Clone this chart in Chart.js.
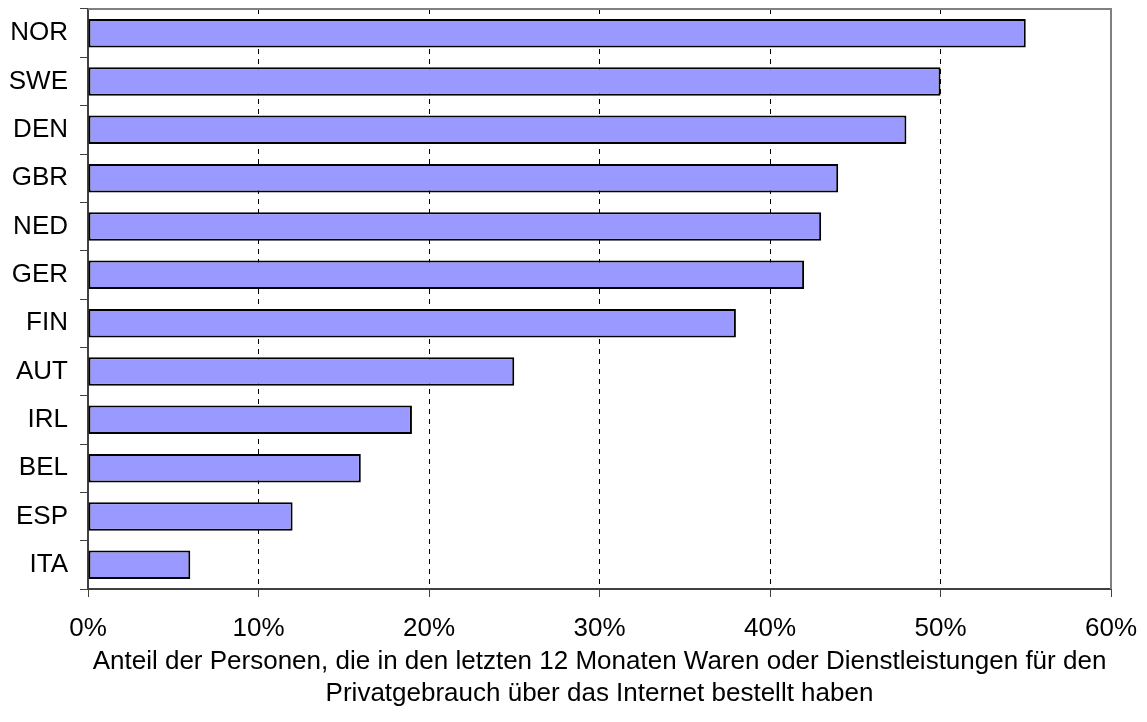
<!DOCTYPE html>
<html>
<head>
<meta charset="utf-8">
<script src="https://cdn.jsdelivr.net/npm/chart.js@4"></script>
<style>
  html, body { margin: 0; padding: 0; background: #fff; }
  #wrap { width: 1147px; height: 722px; position: relative; }
</style>
</head>
<body>
<div id="wrap"><canvas id="chart"></canvas></div>
<script>
// Länder und Anteile (%)
const countries = ['NOR', 'SWE', 'DEN', 'GBR', 'NED', 'GER', 'FIN', 'AUT', 'IRL', 'BEL', 'ESP', 'ITA'];
const shares = [55, 50, 48, 44, 43, 42, 38, 25, 19, 16, 12, 6];
const xTicks = [0, 10, 20, 30, 40, 50, 60];
const axisTitle = [
    'Anteil der Personen, die in den letzten 12 Monaten Waren oder Dienstleistungen für den',
    'Privatgebrauch über das Internet bestellt haben'
];

const fam = '"Liberation Sans", Arial, sans-serif';
const font = { family: fam, size: 26 };

// grauer Rahmen oben und rechts
const frame = {
    id: 'frame',
    beforeDatasetsDraw(chart) {
        const a = chart.chartArea, ctx = chart.ctx;
        ctx.save();
        ctx.strokeStyle = '#808080';
        ctx.lineWidth = 2;
        ctx.beginPath();
        ctx.moveTo(a.left, a.top);
        ctx.lineTo(a.right, a.top);
        ctx.lineTo(a.right, a.bottom);
        ctx.stroke();
        ctx.restore();
    }
};

const ctx = document.getElementById('chart').getContext('2d');
window.chart = new Chart(ctx, {
    type: 'bar',
    data: {
        labels: countries,
        datasets: [{
            data: shares,
            backgroundColor: '#9999ff',
            borderColor: '#000000',
            borderWidth: 2,
            borderSkipped: false,
            barPercentage: 0.59,
            categoryPercentage: 1
        }]
    },
    options: {
        indexAxis: 'y',
        responsive: true,
        maintainAspectRatio: false,
        animation: false,
        layout: { padding: { top: 9, right: 36, left: 0, bottom: 0 } },
        plugins: { legend: { display: false }, tooltip: { enabled: false } },
        scales: {
            y: {
                grid: { drawOnChartArea: false, offset: true, tickLength: 8, color: '#404040', lineWidth: 1 },
                border: { color: '#404040', width: 2 },
                ticks: { color: '#000', font: font, padding: 12 },
                afterFit(scale) {
                    scale.width = 88;
                    scale.paddingTop = 0;
                    scale.paddingBottom = 0;
                }
            },
            x: {
                min: 0,
                max: 60,
                afterBuildTicks(scale) { scale.ticks = xTicks.map(v => ({ value: v })); },
                grid: {
                    color: c => (c.tick && (c.tick.value === 0 || c.tick.value === 60)) ? 'rgba(0,0,0,0)' : '#000',
                    tickColor: '#404040',
                    tickLength: 8,
                    lineWidth: 1
                },
                border: { color: '#404040', width: 2, dash: [5, 5] },
                ticks: { color: '#000', font: font, padding: 16, callback: v => v + '%' },
                title: {
                    display: true,
                    text: axisTitle,
                    color: '#000',
                    font: { family: fam, size: 26, lineHeight: 32 / 26 },
                    padding: { top: 10, bottom: 12 }
                },
                afterFit(scale) {
                    scale.height = 133;
                    scale.paddingLeft = 0;
                    scale.paddingRight = 0;
                }
            }
        }
    },
    plugins: [frame]
});
</script>
</body>
</html>
